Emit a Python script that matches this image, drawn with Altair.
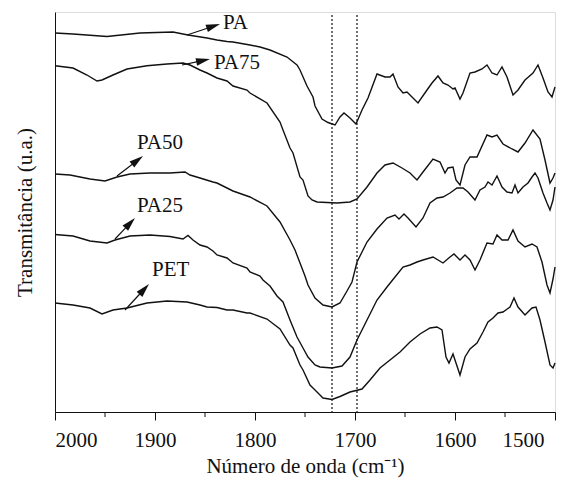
import math
import altair as alt
import pandas as pd

# ---- spectra (wavenumber, transmittance in arbitrary offset units) ----
PA_wn = [2000, 1982, 1948, 1915, 1882, 1867, 1848, 1838, 1828, 1822,
         1805, 1795, 1785, 1768, 1758, 1755, 1748, 1742, 1740, 1733,
         1727, 1720, 1715, 1711, 1705, 1699, 1693, 1687, 1678, 1670,
         1665, 1662, 1657, 1652, 1648, 1643, 1637, 1628, 1623, 1617,
         1612, 1607, 1602, 1600, 1595, 1592, 1585, 1580, 1573, 1568,
         1563, 1558, 1553, 1548, 1542, 1537, 1530, 1522, 1517, 1512,
         1507, 1503, 1500]
PA_t = [379, 378, 375.5, 379, 380, 377, 374, 372, 370.5, 370,
        367, 365, 362, 355, 347, 342, 326, 315, 306, 293,
        289.5, 287, 295, 299, 294, 288, 302, 314, 338, 335,
        335, 338, 325, 319, 320, 315, 309, 322, 329, 336,
        329, 327, 323, 324, 313, 319, 339, 340, 343, 347,
        339, 337, 345, 335, 317, 322, 332, 339, 347, 334,
        320, 315, 325]

PA75_wn = [2000, 1982, 1968, 1958, 1953, 1942, 1928, 1908, 1888, 1872,
           1865, 1855, 1848, 1838, 1828, 1822, 1808, 1805, 1788, 1775,
           1772, 1765, 1762, 1755, 1752, 1747, 1743, 1738, 1718, 1705,
           1698, 1688, 1678, 1670, 1662, 1653, 1645, 1638, 1632, 1622,
           1615, 1610, 1607, 1602, 1599, 1595, 1590, 1585, 1578, 1568,
           1563, 1558, 1552, 1543, 1537, 1530, 1522, 1515, 1510, 1505,
           1502, 1500]
PA75_t = [346.3, 344, 337, 331, 332, 337, 343, 346.3, 348, 349,
          347, 342, 339, 334, 331, 326, 322, 319, 309, 290,
          282, 264, 259, 235, 232, 216, 212, 210, 209, 210,
          213, 225, 239, 247, 249, 244, 239, 232, 240, 253,
          250, 239, 244, 245, 232, 227, 247, 255, 255, 277,
          275, 277, 268, 263, 260, 269, 282, 273, 252, 229,
          234, 239]

PA50_wn = [2000, 1985, 1965, 1950, 1938, 1925, 1905, 1885, 1870, 1865,
           1855, 1842, 1838, 1822, 1805, 1788, 1775, 1765, 1760, 1755,
           1750, 1747, 1740, 1732, 1723, 1715, 1708, 1703, 1698, 1688,
           1678, 1668, 1660, 1656, 1651, 1647, 1639, 1632, 1625, 1618,
           1612, 1605, 1598, 1592, 1587, 1580, 1575, 1570, 1567, 1563,
           1558, 1553, 1548, 1543, 1540, 1537, 1532, 1527, 1523, 1520,
           1517, 1512, 1508, 1505, 1502, 1500]
PA50_t = [238, 237, 233, 231, 235, 238, 239, 239, 240, 237,
          234, 230, 229, 221, 215, 206, 190, 172, 162, 149,
          136, 127, 114, 107, 105, 109, 121, 130, 150, 170,
          183, 194, 197, 193, 198, 194, 185, 194, 209, 214,
          215, 219, 224, 224, 220, 212, 222, 225, 230, 227,
          236, 225, 220, 219, 227, 219, 225, 229, 235, 239,
          234, 219, 209, 202, 212, 225]

PA25_wn = [2000, 1982, 1965, 1948, 1940, 1925, 1905, 1885, 1872, 1867,
           1862, 1855, 1848, 1842, 1838, 1828, 1822, 1808, 1805, 1795,
           1792, 1785, 1778, 1772, 1765, 1758, 1752, 1747, 1740, 1735,
           1723, 1713, 1705, 1698, 1688, 1678, 1668, 1660, 1652, 1645,
           1638, 1632, 1622, 1612, 1605, 1601, 1595, 1590, 1585, 1580,
           1575, 1568, 1562, 1558, 1553, 1547, 1542, 1537, 1530, 1523,
           1518, 1513, 1508, 1505, 1502, 1500]
PA25_t = [177.5, 176, 171, 169, 172, 176, 177, 175.5, 173, 176.5,
          172, 167, 165, 161, 157, 154, 149, 144, 140, 136,
          132, 126, 116, 110, 92, 75, 64, 55, 47, 45,
          44, 46, 55, 72, 92, 112, 125, 135, 145, 147,
          150, 152, 155, 149, 155, 158, 152, 157, 152, 142,
          152, 169, 168, 177, 172, 172, 182, 171, 165, 168,
          165, 150, 127, 119, 133, 145]

PET_wn = [2000, 1982, 1965, 1953, 1942, 1928, 1908, 1888, 1868, 1855,
          1848, 1838, 1828, 1822, 1808, 1805, 1788, 1775, 1765, 1762,
          1755, 1752, 1745, 1742, 1735, 1732, 1723, 1715, 1705, 1693,
          1685, 1675, 1665, 1655, 1645, 1635, 1625, 1618, 1613, 1609,
          1606, 1602, 1599, 1595, 1590, 1585, 1578, 1572, 1567, 1562,
          1557, 1552, 1545, 1541, 1537, 1530, 1523, 1519, 1515, 1510,
          1505, 1502, 1500]
PET_t = [109, 107, 104, 98, 102, 104, 109, 111, 110, 107,
         105, 104.5, 102, 102, 99, 99, 93, 83, 67, 64,
         47, 42, 27, 24, 17, 14, 12.5, 15.5, 20, 23,
         32, 44, 52, 60, 70, 78, 84, 85, 82, 55,
         49, 58, 49, 37, 55, 63, 69, 80, 90, 94,
         99, 100, 105, 114, 105, 97, 104, 105, 92, 70,
         47, 44, 49]

# ---- annotations ----
label_names = ["PA", "PA75", "PA50", "PA25", "PET"]
label_wn = [1832, 1841, 1918, 1918, 1903]
label_t = [389, 349, 269, 206, 142]
arrow_start_wn = [1868, 1873, 1938, 1940, 1930]
arrow_start_t = [377, 347, 236, 173, 102]
arrow_tip_wn = [1835, 1845, 1912, 1920, 1906]
arrow_tip_t = [388, 353, 256, 194, 128]

peak_lines = [1723, 1698]
major_ticks = [2000, 1900, 1800, 1700, 1600, 1500]
minor_ticks = [1950, 1850, 1750, 1650, 1550]

rows = []
for name, wn, tt in [("PA", PA_wn, PA_t), ("PA75", PA75_wn, PA75_t),
                     ("PA50", PA50_wn, PA50_t), ("PA25", PA25_wn, PA25_t),
                     ("PET", PET_wn, PET_t)]:
    for w, t in zip(wn, tt):
        rows.append({"series": name, "wn": w, "T": t})
spec = pd.DataFrame(rows)

# arrowhead geometry (1 data unit = 1 px on both axes)
HEAD_HALF = 7.0
heads = []
for sw, st, tw, tt in zip(arrow_start_wn, arrow_start_t, arrow_tip_wn, arrow_tip_t):
    dx = sw - tw          # screen px to the right (axis reversed)
    dy = -(tt - st)       # screen px downward
    ln = math.hypot(dx, dy)
    ang = math.degrees(math.atan2(dx, -dy)) % 360
    heads.append({"wn": tw + HEAD_HALF * dx / ln,
                  "T": tt - HEAD_HALF * (tt - st) / ln,
                  "angle": ang,
                  "wn_base": tw + 1.8 * HEAD_HALF * dx / ln,
                  "T_base": tt - 1.8 * HEAD_HALF * (tt - st) / ln})
heads = pd.DataFrame(heads)
arrows = pd.DataFrame({"sw": arrow_start_wn, "st": arrow_start_t,
                       "bw": heads["wn_base"], "bt": heads["T_base"]})
labels = pd.DataFrame({"name": label_names, "wn": label_wn, "T": label_t})

FONT = "Liberation Serif"
xscale = alt.Scale(domain=[1500, 2000], reverse=True, nice=False, zero=False)
yscale = alt.Scale(domain=[0, 400], nice=False, zero=True)

lines = alt.Chart(spec).mark_line(color="#111111", strokeWidth=1.4).encode(
    x=alt.X("wn:Q", scale=xscale,
            axis=alt.Axis(values=major_ticks, format="d", tickSize=8,
                          labelFontSize=21, labelFont=FONT, labelColor="#111",
                          labelPadding=9,
                          labelOffset={"condition": {"test": "datum.value == 1500",
                                                     "value": -11},
                                       "value": 0},
                          domainColor="#111", tickColor="#111",
                          grid=False, title="Número de onda (cm⁻¹)",
                          titleFont=FONT, titleFontSize=21,
                          titleFontWeight="normal", titleColor="#111",
                          titlePadding=5)),
    y=alt.Y("T:Q", scale=yscale,
            axis=alt.Axis(labels=False, ticks=False, grid=False,
                          domainColor="#111",
                          title="Transmitância (u.a.)", titleFont=FONT,
                          titleFontSize=21, titleFontWeight="normal",
                          titleColor="#111", titlePadding=20)),
    detail="series:N",
)

vlines = alt.Chart(pd.DataFrame({"wn": peak_lines})).mark_rule(
    color="#111", strokeWidth=1.2, strokeDash=[2, 2]).encode(
    x="wn:Q", y=alt.datum(397), y2=alt.datum(0))

minor = alt.Chart(pd.DataFrame({"wn": minor_ticks})).mark_rule(
    color="#111", strokeWidth=1).encode(
    x="wn:Q", y=alt.value(400), y2=alt.value(405))

shafts = alt.Chart(arrows).mark_rule(color="#111", strokeWidth=1.2).encode(
    x="sw:Q", y="st:Q", x2="bw:Q", y2="bt:Q")

arrowheads = alt.Chart(heads).mark_point(
    shape="M0,-1L0.55,1L-0.55,1Z", filled=True, color="#111", opacity=1,
    size=196, strokeWidth=0).encode(
    x="wn:Q", y="T:Q", angle=alt.Angle("angle:Q", scale=None))

texts = alt.Chart(labels).mark_text(
    align="left", baseline="middle", font=FONT, fontSize=21,
    color="#111").encode(x="wn:Q", y="T:Q", text="name:N")

chart = alt.layer(lines, vlines, minor, shafts, arrowheads, texts).properties(
    width=500, height=400,
    autosize=alt.AutoSizeParams(type="none"),
    padding={"left": 47, "top": 4, "right": 11, "bottom": 68},
).configure_view(stroke=None).configure(font=FONT)

chart.save("out.html", embed_options={"renderer": "svg", "actions": False})
